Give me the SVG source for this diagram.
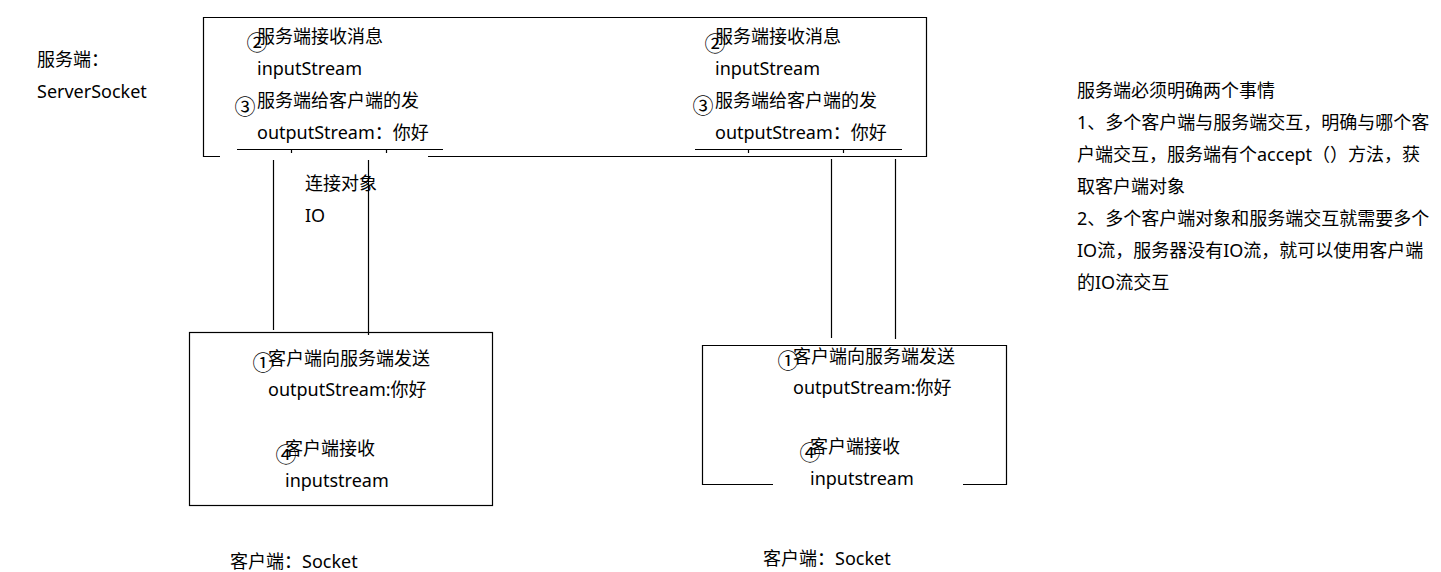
<svg xmlns="http://www.w3.org/2000/svg" width="1441" height="572" viewBox="0 0 1441 572">
<style>
text{font-family:"Noto Sans","Noto Sans CJK SC",sans-serif;font-size:18px;fill:#000}
.c{font-family:"Noto Sans CJK SC",sans-serif;font-size:21px;text-anchor:middle}
.ln{stroke:#000;stroke-width:1.2;fill:none}
</style>
<rect width="1441" height="572" fill="#fff"/>
<g id="server-label">
<text x="37" y="66">服务端：</text>
<text x="37" y="98">ServerSocket</text>
</g>
<g id="server">
<path class="ln" d="M220,156.5H203.5V17.5H926.5V156.5H428"/>
<g id="server-left">
<text x="257" y="43">服务端接收消息</text>
<text class="c" x="257" y="50">②</text>
<text x="257" y="75">inputStream</text>
<text x="257" y="107">服务端给客户端的发</text>
<text class="c" x="245" y="114">③</text>
<text x="257" y="139">outputStream：你好</text>
<path class="ln" d="M237,149.5H443M291.5,149V153M386.5,149V153"/>
</g>
<g id="server-right">
<text x="715" y="43">服务端接收消息</text>
<text class="c" x="715" y="51">②</text>
<text x="715" y="75">inputStream</text>
<text x="715" y="107">服务端给客户端的发</text>
<text class="c" x="703" y="113">③</text>
<text x="715" y="139">outputStream：你好</text>
<path class="ln" d="M695,149.5H902M748.5,149V153M843.5,149V153"/>
</g>
</g>
<g id="connectors">
<path class="ln" d="M273.5,160V330M368.5,160V335M831.5,159V338M895.5,159V339"/>
</g>
<g id="connection-label">
<text x="305" y="190">连接对象</text>
<text x="305" y="222">IO</text>
</g>
<g id="client1">
<rect class="ln" x="189.5" y="332.5" width="303" height="173"/>
<text x="268" y="365">客户端向服务端发送</text>
<text class="c" x="263" y="370">①</text>
<text x="268" y="396">outputStream:你好</text>
<text x="285" y="455">客户端接收</text>
<text class="c" x="286" y="462">④</text>
<text x="285" y="487">inputstream</text>
</g>
<g id="client2">
<path class="ln" d="M773,484.5H702.5V345.5H1006.5V484.5H963"/>
<text x="793" y="363">客户端向服务端发送</text>
<text class="c" x="788" y="368">①</text>
<text x="793" y="394">outputStream:你好</text>
<text x="810" y="453">客户端接收</text>
<text class="c" x="810" y="460">④</text>
<text x="810" y="485">inputstream</text>
</g>
<g id="client-labels">
<text x="230" y="568">客户端：Socket</text>
<text x="763" y="565">客户端：Socket</text>
</g>
<g id="notes">
<text x="1077" y="97">服务端必须明确两个事情</text>
<text x="1077" y="129">1、多个客户端与服务端交互，明确与哪个客</text>
<text x="1077" y="161">户端交互，服务端有个accept（）方法，获</text>
<text x="1077" y="193">取客户端对象</text>
<text x="1077" y="225">2、多个客户端对象和服务端交互就需要多个</text>
<text x="1077" y="257">IO流，服务器没有IO流，就可以使用客户端</text>
<text x="1077" y="289">的IO流交互</text>
</g>
</svg>
